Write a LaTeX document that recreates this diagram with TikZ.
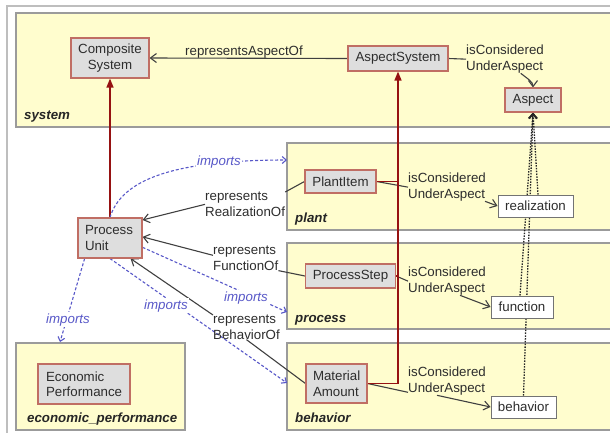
\documentclass[tikz,border=0pt]{standalone}
\usepackage{fontspec}
\setmainfont{Liberation Sans}
\usetikzlibrary{arrows.meta}
\definecolor{pkgfill}{RGB}{255,253,206}
\definecolor{pkgline}{RGB}{155,155,155}
\definecolor{clsfill}{RGB}{222,222,222}
\definecolor{clsline}{RGB}{192,110,100}
\definecolor{txt}{RGB}{45,45,45}
\definecolor{redarr}{RGB}{150,18,18}
\definecolor{bluearr}{RGB}{88,88,200}
\definecolor{framecol}{RGB}{190,190,190}
\pgfdeclarelayer{pkglayer}
\pgfdeclarelayer{edgelayer}
\pgfsetlayers{pkglayer,edgelayer,main}
\begin{document}
\begin{tikzpicture}[x=1pt,y=-1pt,
  every node/.style={font=\fontsize{13.3}{15.5}\selectfont, text=txt},
  pkg/.style={draw=pkgline, fill=pkgfill, line width=1.3pt, inner sep=0pt},
  pkglbl/.style={font=\fontsize{13.3}{15.5}\selectfont\bfseries\itshape, inner sep=0pt, anchor=base west, text=black!85},
  cls/.style={draw=clsline, fill=clsfill, line width=1.1pt, inner sep=0pt, align=center},
  lcls/.style={cls, align=left, inner xsep=7pt, inner ysep=0pt},
  asp/.style={draw=black!55, fill=white, line width=0.9pt, inner sep=0pt},
  lbl/.style={inner sep=0pt, align=left},
  implbl/.style={inner sep=1.5pt, fill=white, text=bluearr, font=\fontsize{13.3}{15.5}\selectfont\itshape, anchor=base west},
  rel/.style={draw=black!75, line width=1.1pt},
  relarr/.style={rel, -{Straight Barb[length=6pt,width=9pt]}},
  spec/.style={draw=redarr, line width=1.4pt},
  specarr/.style={spec, -{Triangle[length=9pt,width=7pt]}},
  imp/.style={draw=bluearr, line width=1.1pt, dash pattern=on 3pt off 2pt, -{Straight Barb[length=4pt,width=7pt]}},
  dep/.style={draw=black!85, line width=1.3pt, dash pattern=on 1.5pt off 1.3pt, -{Straight Barb[length=5pt,width=8pt]}},
]
\useasboundingbox (0,0) rectangle (610,432);

\begin{pgfonlayer}{pkglayer}
\draw[draw=framecol, line width=1.5pt] (7,6) rectangle (640,460);
\node[pkg, minimum width=604pt, minimum height=114pt] (system) at (318,70) {};
\node[pkg, minimum width=333pt, minimum height=87pt] (plant) at (453.5,186.5) {};
\node[pkg, minimum width=333pt, minimum height=86pt] (process) at (453.5,286) {};
\node[pkg, minimum width=333pt, minimum height=87pt] (behavior) at (453.5,386.5) {};
\node[pkg, minimum width=169pt, minimum height=87pt] (econ) at (100.5,386.5) {};
\end{pgfonlayer}

\node[pkglbl] (systemlbl) at (24,119) {system};
\node[pkglbl] (plantlbl) at (295,222) {plant};
\node[pkglbl] (processlbl) at (295,322) {process};
\node[pkglbl] (behaviorlbl) at (295,422) {behavior};
\node[pkglbl] (econlbl) at (27,422) {economic\_performance};

\node[cls, minimum width=78pt, minimum height=40pt] (cs) at (110,58) {Composite\\System};
\node[cls, minimum width=100pt, minimum height=25pt] (as) at (398,58.5) {AspectSystem};
\node[cls, minimum width=56pt, minimum height=24pt] (aspect) at (533,100) {Aspect};
\node[cls, minimum width=71pt, minimum height=23pt] (pi) at (340.5,181.5) {PlantItem};
\node[cls, minimum width=90pt, minimum height=24pt] (ps) at (350.5,276) {ProcessStep};
\node[lcls, text width=47pt, minimum height=39pt] (ma) at (336.5,383.5) {Material\\Amount};
\node[lcls, text width=50pt, minimum height=40pt] (pu) at (110,238) {Process\\Unit};
\node[lcls, inner xsep=8pt, text width=76pt, minimum height=40pt] (ep) at (84,384) {Economic\\Performance};
\node[asp, minimum width=75pt, minimum height=22pt] (real) at (535.5,206) {realization};
\node[asp, minimum width=62pt, minimum height=22pt] (func) at (522,307) {function};
\node[asp, minimum width=65pt, minimum height=22pt] (beh) at (523.5,407) {behavior};

\node[lbl, anchor=base] (rao) at (244,55) {representsAspectOf};
\node[lbl, anchor=north west] (icu0) at (466,45) {isConsidered\\UnderAspect};
\node[lbl, anchor=north west] (icu1) at (408,173) {isConsidered\\UnderAspect};
\node[lbl, anchor=north west] (icu2) at (408,267) {isConsidered\\UnderAspect};
\node[lbl, anchor=north west] (icu3) at (408,367) {isConsidered\\UnderAspect};
\node[lbl, anchor=north west] (rro) at (205,192) {represents\\RealizationOf};
\node[lbl, anchor=north west] (rfo) at (213,246) {represents\\FunctionOf};
\node[lbl, anchor=north west] (rbo) at (213,315) {represents\\BehaviorOf};

\node[implbl] (imp1) at (195.5,165) {imports};
\node[implbl] (imp2) at (222.5,301) {imports};
\node[implbl] (imp3) at (142.5,309) {imports};
\node[implbl] (imp4) at (44.5,323) {imports};

\coordinate (plantin) at (287,160);
\coordinate (procin) at (287,312);
\coordinate (behin) at (287,383);
\coordinate (econin) at (60,342);

\begin{pgfonlayer}{edgelayer}
\draw[relarr] (as.west) -- (cs.east);
\draw[rel] (as.east) -- (icu0.west);
\draw[relarr] (icu0.-42) .. controls (528,79) and (533,82) .. (aspect.north);
\draw[rel] (pi.west) -- (rro.north east);
\draw[relarr] (rro.west) -- (pu.29);
\draw[rel] (ps.west) -- (rfo.south east);
\draw[relarr] ([yshift=3pt]rfo.west) -- (pu.2);
\draw[rel] (ma.west) -- (rbo.south);
\draw[relarr] (rbo.north west) -- (pu.-45);
\draw[rel] (pi.east) -- (icu1.west);
\draw[relarr] ([xshift=77pt]icu1.south west) -- (real.west);
\draw[rel] (ps.east) -- (icu2.west);
\draw[relarr] ([xshift=52pt]icu2.south west) -- (func.west);
\draw[rel] (ma.east) -- ([yshift=3pt]icu3.south west);
\draw[relarr] ([xshift=29pt]icu3.south west) -- (beh.west);

\draw[specarr] (pu.north) -- (cs.south);
\draw[specarr] (ma.east) -| (as.south);
\draw[spec] (pi.east) -- (pi.east -| as.south);
\draw[spec] (ps.east) -- (ps.east -| as.south);

\draw[imp] (pu.north) .. controls (120,185) and (160,160) .. (plantin);
\draw[imp] (pu.-16) -- (procin);
\draw[imp] (pu.south) -- (behin);
\draw[imp] (pu.-141) -- (econin);

\draw[dep] (beh.north) -- (aspect.south);
\draw[dep] ([xshift=-2pt]func.north) -- (aspect.south);
\draw[dep] ([xshift=2.5pt]real.north) -- (aspect.south);
\end{pgfonlayer}
\end{tikzpicture}
\end{document}
